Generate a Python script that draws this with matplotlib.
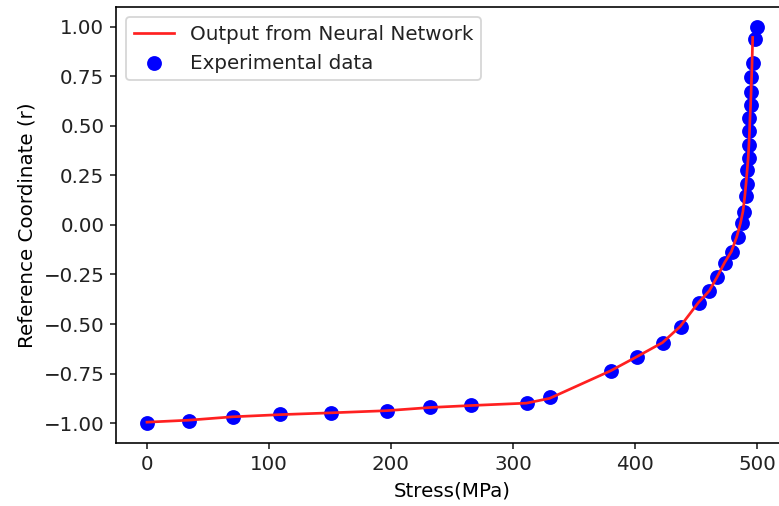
import matplotlib
matplotlib.use("Agg")
import matplotlib.pyplot as plt

# Experimental data (stress in MPa, reference coordinate r)
exp_stress = [0, 34.2, 70.2, 109.3, 150.6, 196.5, 232.2, 265.6, 311.2, 330.3,
              380.1, 401.4, 422.7, 437.5, 452.7, 460.9, 467.0, 473.8, 479.3, 484.7,
              487.5, 489.3, 491.0, 492.1, 492.1, 493.7, 493.7, 493.7, 493.7, 494.8,
              494.8, 494.8, 496.5, 498.1, 499.8]
exp_r = [-1.0, -0.99, -0.968, -0.956, -0.948, -0.938, -0.918, -0.908, -0.898, -0.867,
         -0.736, -0.665, -0.594, -0.513, -0.392, -0.332, -0.261, -0.190, -0.135, -0.059,
         0.009, 0.067, 0.143, 0.205, 0.278, 0.337, 0.404, 0.472, 0.539, 0.606,
         0.670, 0.744, 0.818, 0.939, 1.0]

# Neural network output
nn_stress = [0, 34.0, 70.0, 109.0, 150.5, 196.5, 232.0, 265.5, 311.0, 330.0,
             380.0, 401.5, 422.5, 437.0, 452.0, 461.0, 467.5, 473.5, 479.0, 483.5,
             486.5, 488.5, 490.0, 491.0, 492.0, 492.8, 493.4, 493.9, 494.3, 494.8,
             495.2, 495.6, 496.0, 496.5]
nn_r = [-0.995, -0.985, -0.968, -0.957, -0.948, -0.937, -0.921, -0.911, -0.899, -0.875,
        -0.736, -0.665, -0.594, -0.513, -0.392, -0.332, -0.261, -0.190, -0.135, -0.059,
        0.009, 0.067, 0.143, 0.205, 0.278, 0.337, 0.404, 0.472, 0.539, 0.606,
        0.670, 0.744, 0.818, 0.945]

plt.rcParams['font.size'] = 11
plt.rcParams['axes.linewidth'] = 0.9
plt.rcParams['xtick.major.width'] = 0.9
plt.rcParams['ytick.major.width'] = 0.9
plt.rcParams['xtick.major.size'] = 3.2
plt.rcParams['ytick.major.size'] = 3.2
plt.rcParams['text.color'] = '#222222'
plt.rcParams['xtick.color'] = '#222222'
plt.rcParams['ytick.color'] = '#222222'

DPI = 130
fig = plt.figure(figsize=(779 / DPI, 506 / DPI), dpi=DPI)
ax = fig.add_axes([116.5 / 779, 63 / 506, 670.7 / 779, 436.3 / 506])

ax.plot(nn_stress, nn_r, color='#ff2020', linewidth=1.5, label='Output from Neural Network')
ax.scatter(exp_stress, exp_r, color='blue', s=52, label='Experimental data')
ax.set_xlabel('Stress(MPa)')
ax.set_ylabel('Reference Coordinate (r)')
ax.legend(loc='upper left')

fig.savefig('out.png', dpi=DPI)
